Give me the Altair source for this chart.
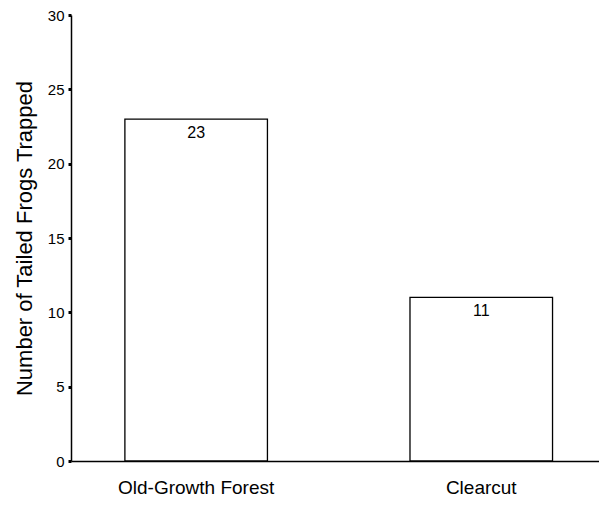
import altair as alt
import pandas as pd

categories = ["Old-Growth Forest", "Clearcut"]
counts = [23, 11]
y_ticks = [0, 5, 10, 15, 20, 25, 30]

df = pd.DataFrame({"site": categories, "count": counts})

FONT = "Liberation Sans"

x_enc = alt.X(
    "site:N",
    sort=categories,
    scale=alt.Scale(paddingInner=0.5, paddingOuter=0.176, align=0.537),
    axis=alt.Axis(
        title=None, labelAngle=0, ticks=False, labelPadding=17,
        labelFontSize=19, labelFont=FONT, labelColor="black",
        domainColor="black", domainWidth=1.5,
    ),
)
y_enc = alt.Y(
    "count:Q",
    scale=alt.Scale(domain=[0, 30], nice=False),
    axis=alt.Axis(
        title="Number of Tailed Frogs Trapped", values=y_ticks,
        grid=False, tickSize=3, tickWidth=3, tickColor="black",
        labelFontSize=15, labelFont=FONT, labelColor="black", labelPadding=4,
        titleFontSize=22, titleFont=FONT, titleFontWeight="normal",
        titleColor="black", titlePadding=11,
        domainColor="black", domainWidth=1.5,
    ),
)

bars = alt.Chart(df).mark_bar(fill="white", stroke="black", strokeWidth=1.3).encode(
    x=x_enc, y=y_enc
)
labels = alt.Chart(df).mark_text(
    baseline="top", dy=6, fontSize=16, font=FONT, color="black"
).encode(x=alt.X("site:N", sort=categories), y="count:Q", text="count:Q")

chart = (
    alt.layer(bars, labels)
    .properties(
        width=528, height=446,
        autosize=alt.AutoSizeParams(type="none"),
        padding={"left": 63, "top": 7, "right": 0, "bottom": 37},
        background="white",
    )
    .configure_view(stroke=None)
)

chart.save("out.html", embed_options={"renderer": "svg", "actions": False})
